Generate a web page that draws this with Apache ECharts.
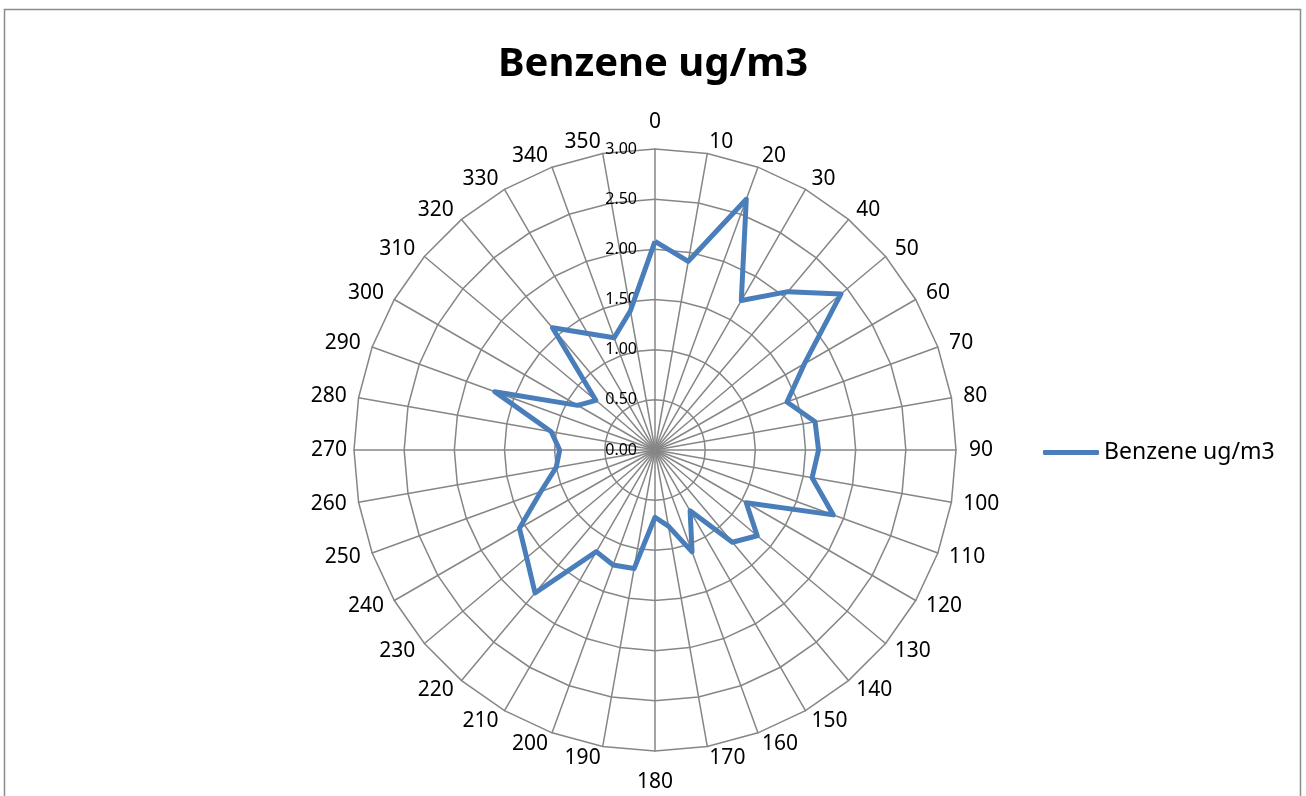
<!DOCTYPE html>
<html>
<head>
<meta charset="utf-8">
<script src="https://cdn.jsdelivr.net/npm/echarts@6/dist/echarts.min.js"></script>
<style>
  html, body { margin: 0; padding: 0; background: #fff; }
  #chart { width: 1306px; height: 796px; }
</style>
</head>
<body>
<div id="chart"></div>
<script>
// wind direction (degrees) and benzene concentration
const directions = ['0', '10', '20', '30', '40', '50', '60', '70', '80', '90', '100', '110',
  '120', '130', '140', '150', '160', '170', '180', '190', '200', '210', '220', '230',
  '240', '250', '260', '270', '280', '290', '300', '310', '320', '330', '340', '350']
const benzene = [2.08, 1.91, 2.66, 1.72, 2.06, 2.42, 1.72, 1.40, 1.62, 1.63, 1.59, 1.89,
  1.05, 1.33, 1.20, 0.70, 1.08, 0.77, 0.67, 1.20, 1.22, 1.17, 1.86, 1.67,
  1.56, 1.21, 1.00, 0.95, 1.05, 1.70, 0.89, 0.77, 1.59, 1.34, 1.19, 1.41]
const seriesName = 'Benzene ug/m3'
const axisMin = 0
const axisMax = 3
const axisSplits = 6

const chart = echarts.init(document.getElementById('chart'))

// radar goes counter-clockwise, the source chart clockwise -> walk the list backwards
const order = [0]
for (let i = directions.length - 1; i > 0; i--) order.push(i)

// value labels only on the north spoke
const tickLabel = {
  show: true,
  fontFamily: 'Noto Sans',
  fontSize: 16,
  color: '#000',
  margin: 18,
  formatter: v => Number(v).toFixed(2)
}

// excel keeps the compass labels a bit further out at top/bottom than at the sides
const nameGaps = { '0': 16, '90': 13, '180': 21, '270': 7 }

const indicators = order.map((i, k) => {
  const ind = { name: directions[i], min: axisMin, max: axisMax }
  if (k === 0) ind.axisLabel = tickLabel
  if (nameGaps[directions[i]] != null) ind.nameGap = nameGaps[directions[i]]
  return ind
})
const values = order.map(i => benzene[i])

const gridGrey = '#868686'
const lineBlue = '#4a7ebb'

chart.setOption({
  animation: false,
  title: {
    text: seriesName,
    left: 'center',
    top: 40,
    textStyle: {
      fontFamily: 'Noto Sans',
      fontSize: 40,
      fontWeight: 'bold',
      color: '#000'
    }
  },
  legend: {
    data: [seriesName],
    left: 1038,
    top: 436,
    icon: 'roundRect',
    itemWidth: 56,
    itemHeight: 5,
    textStyle: { fontFamily: 'Noto Sans', fontSize: 23, color: '#000' }
  },
  graphic: [
    {
      type: 'rect',
      silent: true,
      shape: { x: 4.5, y: 9.5, width: 1296, height: 820 },
      style: { fill: 'none', stroke: '#8c8c8c', lineWidth: 1.5 }
    }
  ],
  radar: {
    center: [655, 450],
    radius: 301,
    startAngle: 90,
    shape: 'polygon',
    splitNumber: axisSplits,
    nameGap: 12,
    axisName: {
      fontFamily: 'Noto Sans',
      fontSize: 21,
      color: '#000'
    },
    axisLine: { lineStyle: { color: gridGrey, width: 1.5 } },
    splitLine: { lineStyle: { color: gridGrey, width: 1.5 } },
    splitArea: { show: false },
    axisTick: { show: false },
    axisLabel: { show: false },
    indicator: indicators
  },
  series: [
    {
      name: seriesName,
      type: 'radar',
      symbol: 'none',
      lineStyle: { color: lineBlue, width: 5, join: 'round' },
      itemStyle: { color: lineBlue },
      data: [{ value: values, name: seriesName }]
    }
  ]
})
</script>
</body>
</html>
